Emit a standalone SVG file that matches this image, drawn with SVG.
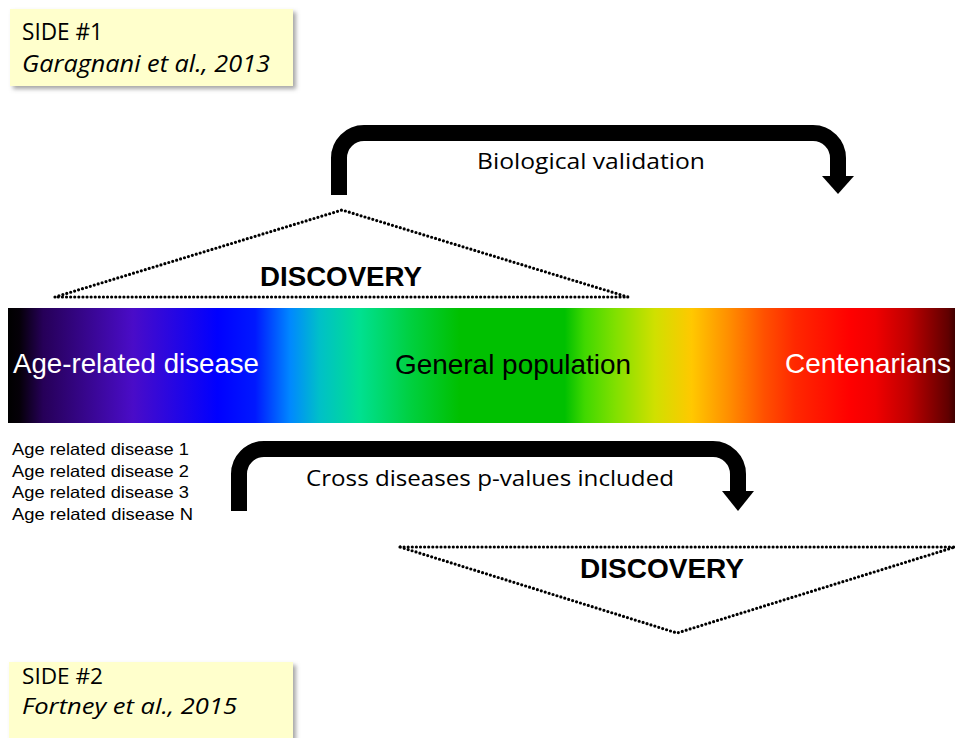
<svg xmlns="http://www.w3.org/2000/svg" width="955" height="738" viewBox="0 0 955 738">
  <defs>
    <linearGradient id="spec" x1="8" y1="0" x2="955" y2="0" gradientUnits="userSpaceOnUse">
      <stop offset="0" stop-color="#000000"/>
      <stop offset="0.012" stop-color="#050008"/>
      <stop offset="0.037" stop-color="#260058"/>
      <stop offset="0.132" stop-color="#4a0cc8"/>
      <stop offset="0.221" stop-color="#0000ff"/>
      <stop offset="0.261" stop-color="#0018ff"/>
      <stop offset="0.298" stop-color="#0088ff"/>
      <stop offset="0.329" stop-color="#00c0c8"/>
      <stop offset="0.372" stop-color="#00e090"/>
      <stop offset="0.425" stop-color="#00d040"/>
      <stop offset="0.477" stop-color="#00c000"/>
      <stop offset="0.588" stop-color="#00c000"/>
      <stop offset="0.609" stop-color="#40d800"/>
      <stop offset="0.641" stop-color="#80e000"/>
      <stop offset="0.683" stop-color="#d0e000"/>
      <stop offset="0.722" stop-color="#ffc800"/>
      <stop offset="0.760" stop-color="#ff9000"/>
      <stop offset="0.799" stop-color="#ff5000"/>
      <stop offset="0.831" stop-color="#ff2800"/>
      <stop offset="0.889" stop-color="#ff0000"/>
      <stop offset="0.916" stop-color="#f00000"/>
      <stop offset="0.950" stop-color="#c00000"/>
      <stop offset="0.993" stop-color="#600000"/>
      <stop offset="1" stop-color="#400000"/>
    </linearGradient>
    <filter id="shadow" x="-5%" y="-10%" width="115%" height="130%">
      <feDropShadow dx="3" dy="3" stdDeviation="2" flood-color="#808080" flood-opacity="0.7"/>
    </filter>
  </defs>
  <style>
    .note { fill: #ffffcc; filter: url(#shadow); }
    .cal { font-family: "Open Sans", "Noto Sans", sans-serif; fill: #000; }
    .ar { font-family: "Liberation Sans", Arial, sans-serif; }
    .disc { font-family: "Liberation Sans", Arial, sans-serif; font-weight: bold; font-size: 27px; fill: #000; }
    .dots { fill: none; stroke: #000; stroke-width: 3.2; stroke-dasharray: 0 4.1; stroke-linecap: round; }
    .bend { fill: none; stroke: #000; stroke-width: 16; }
    .head { fill: #000; }
  </style>
  <rect width="955" height="738" fill="#ffffff"/>

  <g id="side1">
    <rect class="note" x="10" y="9" width="283" height="77"/>
    <text class="cal" x="22" y="40" font-size="23" textLength="81" lengthAdjust="spacingAndGlyphs">SIDE #1</text>
    <text class="cal" x="22" y="72" font-size="23" font-style="italic" textLength="248" lengthAdjust="spacingAndGlyphs">Garagnani et al., 2013</text>
  </g>

  <g id="side2">
    <rect class="note" x="9" y="662" width="284" height="90"/>
    <text class="cal" x="22" y="684" font-size="21.5" textLength="81" lengthAdjust="spacingAndGlyphs">SIDE #2</text>
    <text class="cal" x="22" y="714" font-size="21.5" font-style="italic" textLength="215" lengthAdjust="spacingAndGlyphs">Fortney et al., 2015</text>
  </g>

  <g id="spectrum">
    <rect x="8" y="308" width="947" height="115" fill="url(#spec)"/>
    <text class="ar" x="13" y="373" font-size="28" fill="#ffffff" textLength="246" lengthAdjust="spacingAndGlyphs">Age-related disease</text>
    <text class="ar" x="395" y="374" font-size="28" fill="#000000" textLength="236" lengthAdjust="spacingAndGlyphs">General population</text>
    <text class="ar" x="785" y="373" font-size="28" fill="#ffffff" textLength="166" lengthAdjust="spacingAndGlyphs">Centenarians</text>
  </g>

  <g id="discovery-top">
    <path class="dots" d="M55,297 L342,210 L628,297 Z"/>
    <text class="disc" x="260" y="286" textLength="162" lengthAdjust="spacingAndGlyphs">DISCOVERY</text>
  </g>

  <g id="discovery-bottom">
    <path class="dots" d="M400,547 L955,547 L677,633 Z"/>
    <text class="disc" x="580" y="578" textLength="164" lengthAdjust="spacingAndGlyphs">DISCOVERY</text>
  </g>

  <g id="disease-list" class="ar" font-size="16.5" fill="#000">
    <text x="12" y="455" textLength="177" lengthAdjust="spacingAndGlyphs">Age related disease 1</text>
    <text x="12" y="476.5" textLength="177" lengthAdjust="spacingAndGlyphs">Age related disease 2</text>
    <text x="12" y="498" textLength="177" lengthAdjust="spacingAndGlyphs">Age related disease 3</text>
    <text x="12" y="519.5" textLength="181" lengthAdjust="spacingAndGlyphs">Age related disease N</text>
  </g>

  <g id="connectors">
    <g id="bio-validation">
      <path class="bend" d="M339,195 V158 A25,25 0 0 1 364,133 H813 A25,25 0 0 1 838,158 V178"/>
      <polygon class="head" points="822,176 854,176 838,194"/>
      <text class="cal" x="477" y="169" font-size="22.5" textLength="228" lengthAdjust="spacingAndGlyphs">Biological validation</text>
    </g>
    <g id="cross-diseases">
      <path class="bend" d="M239,511 V474 A25,25 0 0 1 264,449 H713 A25,25 0 0 1 738,474 V493"/>
      <polygon class="head" points="722,491 754,491 738,511"/>
      <text class="cal" x="306" y="486" font-size="22.5" textLength="368" lengthAdjust="spacingAndGlyphs">Cross diseases p-values included</text>
    </g>
  </g>
</svg>
